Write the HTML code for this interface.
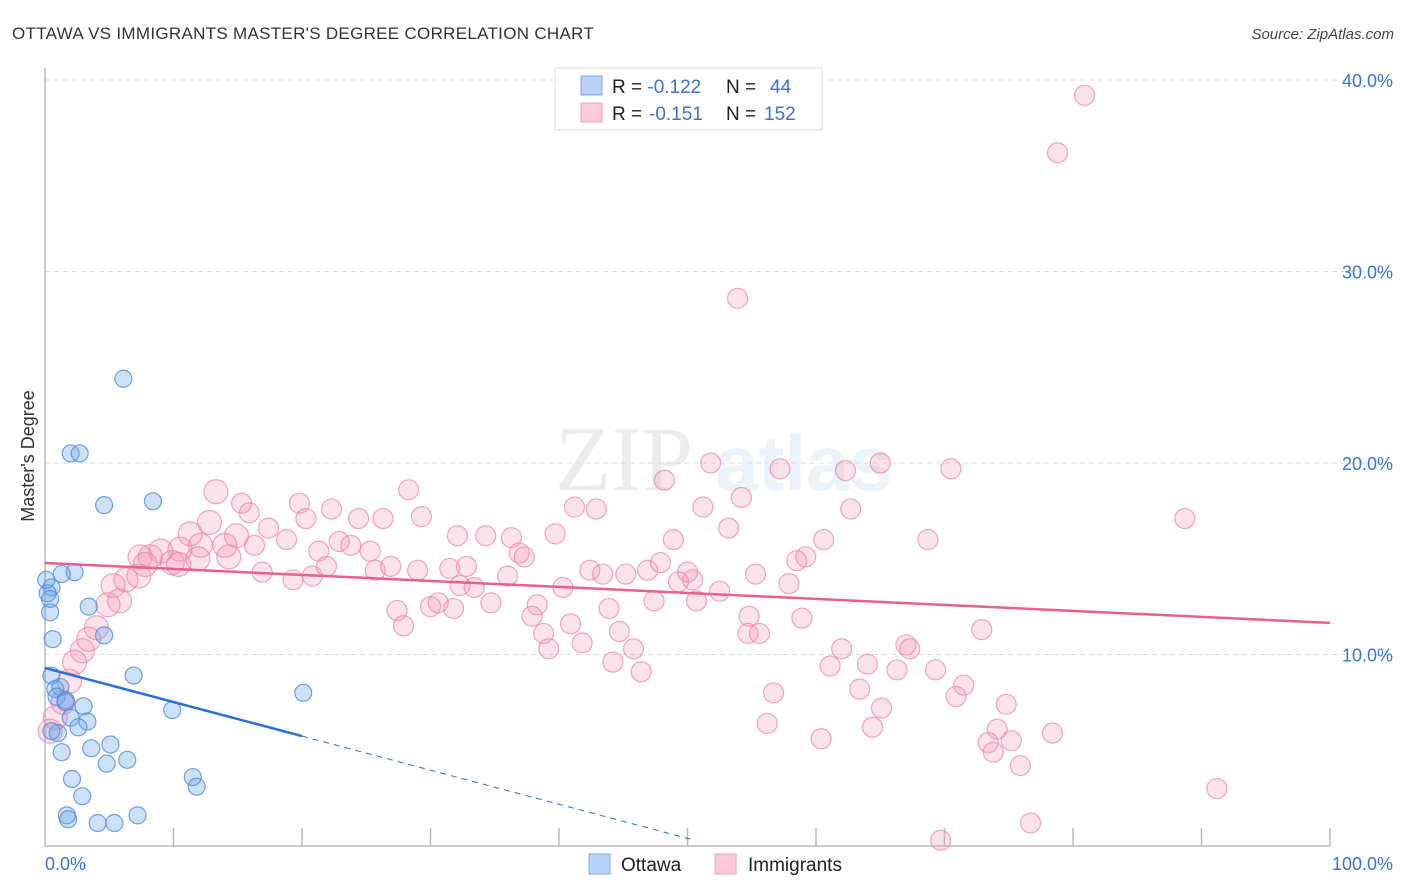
<!DOCTYPE html>
<html><head><meta charset="utf-8"><style>
body{margin:0;background:#fff;font-family:"Liberation Sans",sans-serif}
svg{display:block}
</style></head><body>
<svg id="chart" width="1406" height="892" xmlns="http://www.w3.org/2000/svg">
<text x="12" y="39" font-size="17" fill="#333" letter-spacing="0.3">OTTAWA VS IMMIGRANTS MASTER'S DEGREE CORRELATION CHART</text>
<text x="1394" y="39" font-size="15" fill="#444" font-style="italic" text-anchor="end">Source: ZipAtlas.com</text>
<g opacity="0.13"><text x="555" y="490" font-size="92" font-family="Liberation Serif" fill="#777">ZIP</text><text x="715" y="490" font-size="78" fill="#6aa0e0" font-weight="bold">atlas</text></g>
<text transform="translate(34,456) rotate(-90)" font-size="18" fill="#333" text-anchor="middle">Master's Degree</text>
<g id="grid"></g><g id="axes"></g><g id="pink"></g><g id="blue"></g><g id="lines"></g>
<g>
<rect x="555" y="68" width="267" height="62" fill="#fff" stroke="#ddd"/>
<rect x="581" y="76" width="21" height="19" fill="#b8d3f5" stroke="#7aa7e6"/>
<rect x="581" y="103" width="21" height="19" fill="#fbc9d7" stroke="#f0a0b8"/>
<text x="612" y="93" font-size="19" fill="#222">R = <tspan fill="#3b73d1">-0.122</tspan><tspan x="726">N = </tspan><tspan x="770" fill="#3b73d1">44</tspan></text>
<text x="612" y="120" font-size="19" fill="#222">R = <tspan x="649" fill="#3b73d1">-0.151</tspan><tspan x="726">N = </tspan><tspan x="764" fill="#3b73d1">152</tspan></text>
</g>
<g>
<rect x="589" y="854" width="21" height="20" fill="#b8d3f5" stroke="#7aa7e6"/>
<text x="621" y="871" font-size="19" fill="#222">Ottawa</text>
<rect x="715" y="854" width="21" height="20" fill="#fbc9d7" stroke="#f0a0b8"/>
<text x="748" y="871" font-size="19" fill="#222">Immigrants</text>
</g>
</svg>
<script>
const yTicks=[10,20,30,40];
const yTickLabels=["10.0%","20.0%","30.0%","40.0%"];
const xTickLabels=["0.0%","100.0%"];
const blueX=[6.1,2.0,2.7,4.6,8.4,2.3,1.3,0.5,0.2,0.4,3.4,4.6,0.5,6.9,20.1,0.8,1.2,0.9,1.6,3.0,9.9,2.0,3.3,2.6,1.0,1.3,5.1,3.6,6.4,4.8,2.1,11.5,11.8,2.9,1.7,1.8,4.1,5.4,7.2,0.5,1.6,0.6,0.4,0.1];
const blueY=[24.4,20.5,20.5,17.8,18.0,14.3,14.2,13.5,13.2,12.2,12.5,11.0,8.9,8.9,8.0,8.2,8.3,7.8,7.5,7.3,7.1,6.7,6.5,6.2,5.9,4.9,5.3,5.1,4.5,4.3,3.5,3.6,3.1,2.6,1.6,1.4,1.2,1.2,1.6,6.0,7.6,10.8,12.9,13.9];
const pinkX=[80.9,78.8,53.9,51.8,57.2,62.3,65.0,70.5,48.2,54.2,51.2,62.7,88.7,41.2,42.9,53.2,60.6,68.7,28.3,13.3,15.3,19.8,15.9,22.3,12.8,17.4,11.3,14.9,18.8,20.3,24.4,26.3,29.3,39.7,32.1,34.3,36.3,22.9,23.8,25.3,21.3,16.3,14.0,12.1,10.5,9.0,8.2,7.4,9.9,14.3,11.9,10.4,7.8,7.3,6.3,5.3,5.8,4.9,4.0,3.4,2.9,2.3,1.9,1.4,0.8,0.4,16.9,19.3,20.8,21.9,25.7,26.9,29.0,31.5,32.8,36.0,36.9,37.3,42.4,43.4,45.2,46.9,47.9,48.9,50.0,50.4,52.5,55.3,57.9,58.5,59.2,40.3,32.3,33.4,27.4,30.0,30.6,31.8,34.7,38.3,37.9,40.9,43.9,44.7,47.4,49.3,50.7,54.8,58.9,54.7,55.6,38.8,39.2,27.9,41.8,45.8,44.2,46.4,62.0,67.0,67.3,72.9,61.1,64.0,66.3,69.3,56.7,63.4,65.1,71.5,70.9,74.8,56.2,60.4,64.4,74.1,73.4,75.2,73.8,78.4,75.9,91.2,76.7,69.7];
const pinkY=[39.2,36.2,28.6,20.0,19.7,19.6,20.0,19.7,19.1,18.2,17.7,17.6,17.1,17.7,17.6,16.6,16.0,16.0,18.6,18.5,17.9,17.9,17.4,17.6,16.9,16.6,16.3,16.2,16.0,17.1,17.1,17.1,17.2,16.3,16.2,16.2,16.1,15.9,15.7,15.4,15.4,15.7,15.7,15.7,15.5,15.4,15.1,15.1,14.8,15.1,15.0,14.7,14.7,14.1,13.9,13.6,12.8,12.6,11.4,10.8,10.2,9.6,8.6,7.5,6.7,6.0,14.3,13.9,14.1,14.6,14.4,14.6,14.4,14.5,14.6,14.1,15.3,15.1,14.4,14.2,14.2,14.4,14.8,16.0,14.3,13.9,13.3,14.2,13.7,14.9,15.1,13.5,13.6,13.5,12.3,12.5,12.7,12.4,12.7,12.6,12.0,11.6,12.4,11.2,12.8,13.8,12.8,12.0,11.9,11.1,11.1,11.1,10.3,11.5,10.6,10.3,9.6,9.1,10.3,10.5,10.3,11.3,9.4,9.5,9.2,9.2,8.0,8.2,7.2,8.4,7.8,7.4,6.4,5.6,6.2,6.1,5.4,5.5,4.9,5.9,4.2,3.0,1.2,0.3];
const blueTrend=[[0,9.3],[20,5.74]], blueTrendExt=[20,50.3];
const pinkTrend=[[0,14.78],[100,11.65]];
const NS="http://www.w3.org/2000/svg";
const X0=45,X1=1330,Y0=846,PY=19.15;
const sx=v=>X0+(X1-X0)*v/100, sy=v=>Y0-v*PY;
function mk(tag,attrs,parent){const e=document.createElementNS(NS,tag);for(const k in attrs)e.setAttribute(k,attrs[k]);parent.appendChild(e);return e;}
const grid=document.getElementById('grid'),axes=document.getElementById('axes');
yTicks.forEach((t,i)=>{
 const l=mk('line',{x1:X0,x2:1393,y1:sy(t),y2:sy(t),stroke:'#ddd','stroke-dasharray':'5,4'},grid);
 
 
 const tx=mk('text',{x:1393,y:sy(t)+7,'font-size':18,fill:'#3b73d1','text-anchor':'end'},axes);
 tx.textContent=yTickLabels[i];
 
 
});
const ax=mk('path',{d:`M${X0},68V${Y0}H${X1}`,stroke:'#bbb',fill:'none','stroke-width':1.5},axes);


for(let i=1;i<=10;i++){const tk=mk('line',{x1:sx(i*10),x2:sx(i*10),y1:Y0,y2:Y0-18,stroke:'#bbb','stroke-width':1.5},axes);
 
 }
const xl0=mk('text',{x:45,y:870,'font-size':18,fill:'#3b73d1'},axes);xl0.textContent=xTickLabels[0];


const xl1=mk('text',{x:1393,y:870,'font-size':18,fill:'#3b73d1','text-anchor':'end'},axes);xl1.textContent=xTickLabels[1];


const pg=document.getElementById('pink');
pinkX.forEach((x,i)=>{const r=x<15?12:10;
 const c=mk('circle',{cx:sx(x),cy:sy(pinkY[i]),r:r,fill:'rgba(244,150,180,0.28)',stroke:'rgba(236,130,165,0.7)','stroke-width':1.2},pg);
 
 });
const bg=document.getElementById('blue');
blueX.forEach((x,i)=>{
 const c=mk('circle',{cx:sx(x),cy:sy(blueY[i]),r:8.5,fill:'rgba(110,165,235,0.35)',stroke:'rgba(80,140,220,0.8)','stroke-width':1.2},bg);
 
 });
const lg=document.getElementById('lines');
const pl=mk('line',{x1:sx(pinkTrend[0][0]),y1:sy(pinkTrend[0][1]),x2:sx(pinkTrend[1][0]),y2:sy(pinkTrend[1][1]),stroke:'#e8608f','stroke-width':2.5},lg);


const bl=mk('line',{x1:sx(blueTrend[0][0]),y1:sy(blueTrend[0][1]),x2:sx(blueTrend[1][0]),y2:sy(blueTrend[1][1]),stroke:'#2a6fd6','stroke-width':2.5},lg);


const slope=(blueTrend[1][1]-blueTrend[0][1])/(blueTrend[1][0]-blueTrend[0][0]);
const bd=mk('line',{x1:sx(blueTrend[1][0]),y1:sy(blueTrend[1][1]),x2:sx(blueTrendExt[1]),y2:sy(blueTrend[1][1]+slope*(blueTrendExt[1]-blueTrendExt[0])),stroke:'#2a6fd6','stroke-width':1,'stroke-dasharray':'6,5'},lg);


</script>
</body></html>
